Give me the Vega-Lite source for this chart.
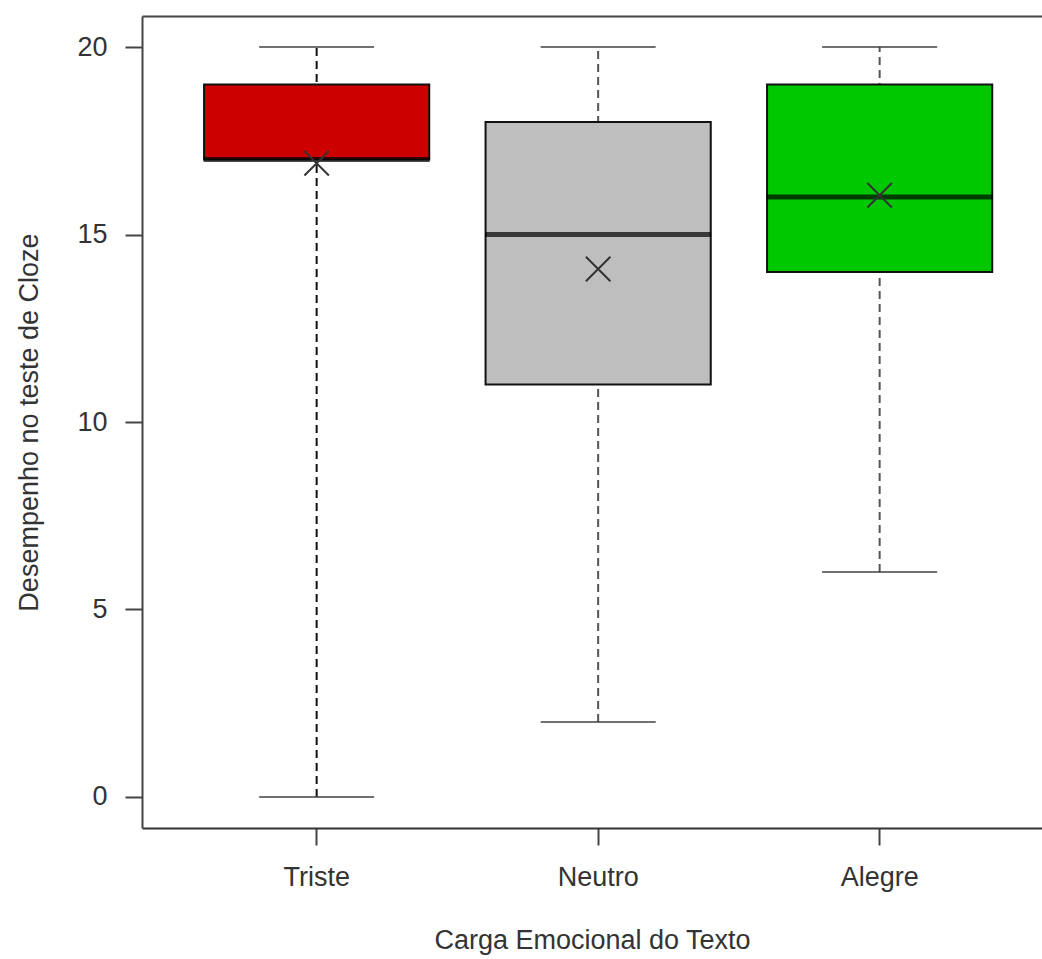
{
  "$schema": "https://vega.github.io/schema/vega-lite/v6.json",
  "autosize": {"type": "none"},
  "padding": {"left": 142, "top": 16, "right": 0, "bottom": 131},
  "width": 900,
  "height": 812,
  "background": "white",
  "config": {
    "font": "Liberation Sans",
    "view": {"stroke": null},
    "axis": {"grid": false, "labelFont": "Liberation Sans", "titleFont": "Liberation Sans", "titleFontWeight": "normal", "labelColor": "#333", "titleColor": "#333", "domainColor": "#444", "tickColor": "#444", "domainWidth": 2, "tickWidth": 2, "labelFontSize": 27, "titleFontSize": 27}
  },
  "data": {
    "values": [
      {"cat": "Triste", "min": 0, "q1": 17, "median": 17, "q3": 19, "max": 20, "mean": 16.9},
      {"cat": "Neutro", "min": 2, "q1": 11, "median": 15, "q3": 18, "max": 20, "mean": 14.08},
      {"cat": "Alegre", "min": 6, "q1": 14, "median": 16, "q3": 19, "max": 20, "mean": 16.05}
    ]
  },
  "resolve": {"axis": {"x": "independent"}},
  "layer": [
    {
      "mark": {"type": "rule", "strokeDash": [8, 5], "strokeWidth": 2},
      "encoding": {
        "x": {"field": "cat", "type": "nominal", "sort": ["Triste", "Neutro", "Alegre"],
          "scale": {"type": "band", "domain": ["Triste", "Neutro", "Alegre"], "paddingInner": 0.2, "paddingOuter": 0.1986, "align": 0.555, "round": false},
          "axis": {"orient": "bottom", "title": "Carga Emocional do Texto", "labelAngle": 0, "tickSize": 17, "labelPadding": 19, "titlePadding": 37, "domainColor": "#333"}},
        "y": {"field": "min", "type": "quantitative",
          "scale": {"domain": [-0.83, 20.83], "nice": false, "zero": false},
          "axis": {"title": "Desempenho no teste de Cloze", "values": [0, 5, 10, 15, 20], "tickSize": 17, "labelPadding": 18, "titlePadding": 33}},
        "y2": {"field": "max"},
        "color": {"field": "cat", "type": "nominal", "legend": null,
          "scale": {"domain": ["Triste", "Neutro", "Alegre"], "range": ["#111111", "#555555", "#555555"]}}
      }
    },
    {
      "mark": {"type": "tick", "size": 115, "thickness": 2, "color": "#333"},
      "encoding": {
        "x": {"field": "cat", "type": "nominal", "sort": ["Triste", "Neutro", "Alegre"], "axis": null},
        "y": {"field": "min", "type": "quantitative"}
      }
    },
    {
      "mark": {"type": "tick", "size": 115, "thickness": 2, "color": "#333"},
      "encoding": {
        "x": {"field": "cat", "type": "nominal", "sort": ["Triste", "Neutro", "Alegre"], "axis": null},
        "y": {"field": "max", "type": "quantitative"}
      }
    },
    {
      "mark": {"type": "bar", "stroke": "#111", "strokeWidth": 2},
      "encoding": {
        "x": {"field": "cat", "type": "nominal", "sort": ["Triste", "Neutro", "Alegre"], "axis": null},
        "y": {"field": "q1", "type": "quantitative"},
        "y2": {"field": "q3"},
        "fill": {"field": "cat", "type": "nominal", "legend": null,
          "scale": {"domain": ["Triste", "Neutro", "Alegre"], "range": ["#cd0000", "#bebebe", "#00c800"]}}
      }
    },
    {
      "mark": {"type": "tick", "size": 226, "thickness": 5, "color": "#000"},
      "encoding": {
        "x": {"field": "cat", "type": "nominal", "sort": ["Triste", "Neutro", "Alegre"], "axis": null},
        "y": {"field": "median", "type": "quantitative"}
      }
    },
    {
      "mark": {"type": "point", "shape": "M-1,-1L1,1M-1,1L1,-1", "filled": false, "size": 600, "strokeWidth": 2, "color": "#333", "opacity": 1},
      "encoding": {
        "x": {"field": "cat", "type": "nominal", "sort": ["Triste", "Neutro", "Alegre"],
          "axis": {"orient": "top", "title": null, "labels": false, "ticks": false, "domain": true, "domainColor": "#444"}},
        "y": {"field": "mean", "type": "quantitative"}
      }
    }
  ]
}
